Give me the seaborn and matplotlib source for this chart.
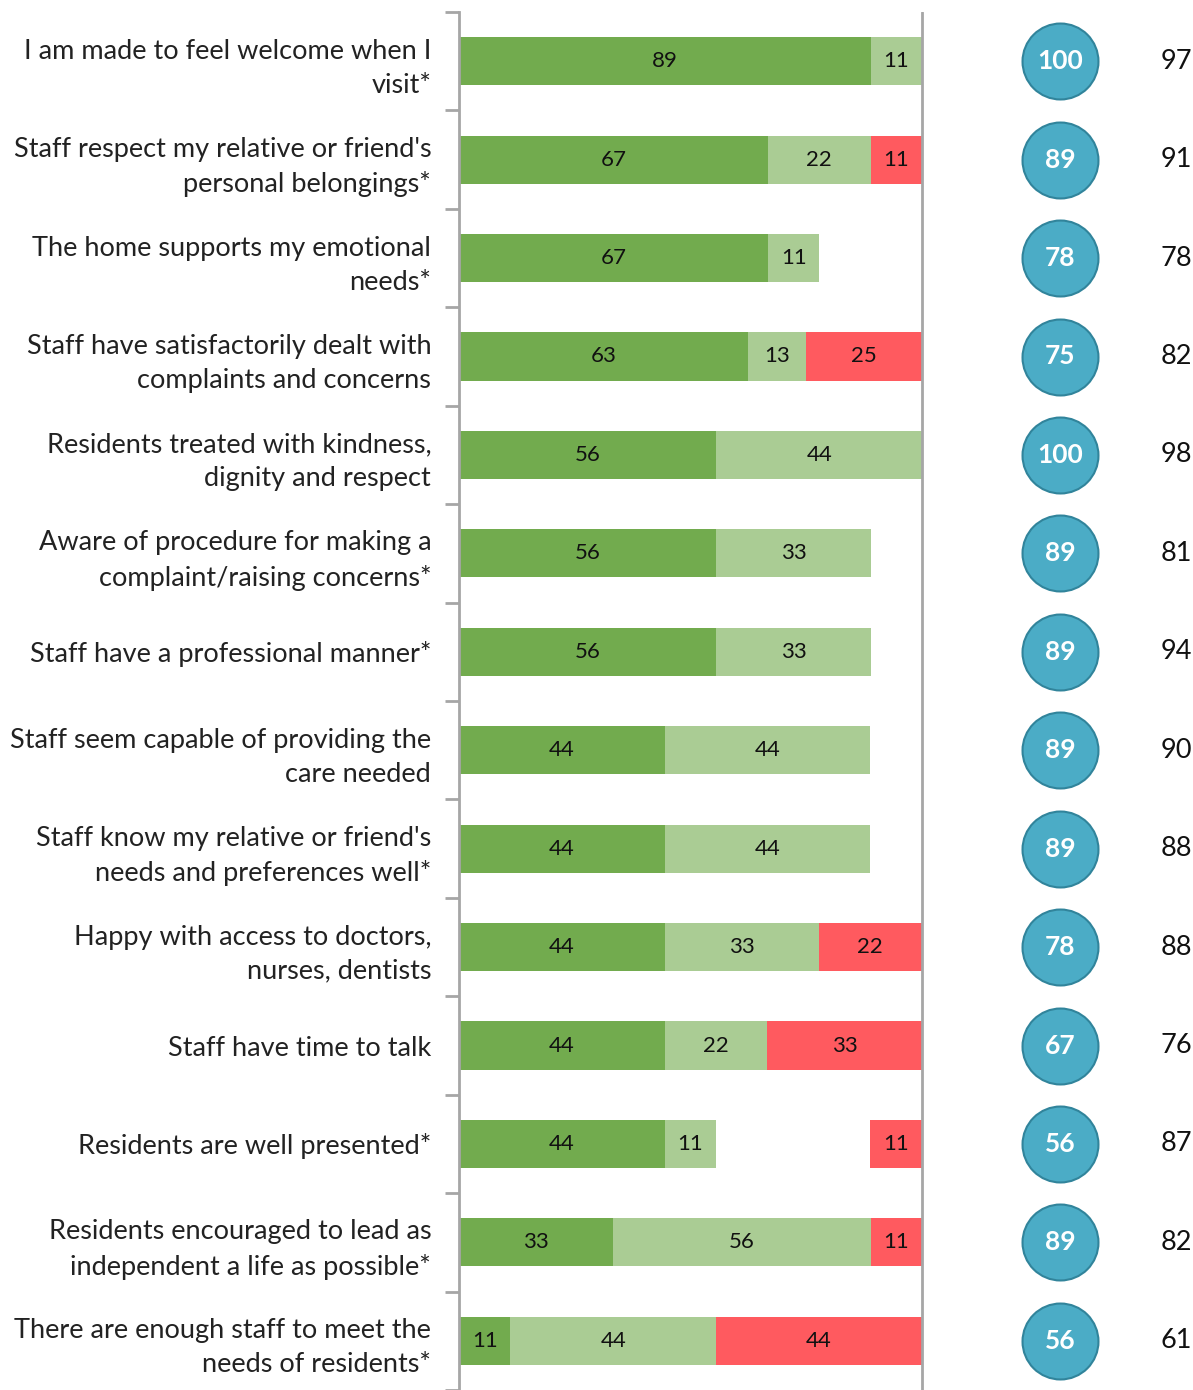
import numpy as np
import matplotlib
matplotlib.use("Agg")
import matplotlib.pyplot as plt
import seaborn as sns

# survey statements (wrapped as in the report)
categories = [
    "I am made to feel welcome when I\nvisit*",
    "Staff respect my relative or friend's\npersonal belongings*",
    "The home supports my emotional\nneeds*",
    "Staff have satisfactorily dealt with\ncomplaints and concerns",
    "Residents treated with kindness,\ndignity and respect",
    "Aware of procedure for making a\ncomplaint/raising concerns*",
    "Staff have a professional manner*",
    "Staff seem capable of providing the\ncare needed",
    "Staff know my relative or friend's\nneeds and preferences well*",
    "Happy with access to doctors,\nnurses, dentists",
    "Staff have time to talk",
    "Residents are well presented*",
    "Residents encouraged to lead as\nindependent a life as possible*",
    "There are enough staff to meet the\nneeds of residents*",
]

strongly_agree = [88.9, 66.7, 66.7, 62.5, 55.6, 55.6, 55.6, 44.4, 44.4, 44.4, 44.4, 44.4, 33.3, 11.1]
agree = [11.1, 22.2, 11.1, 12.5, 44.4, 33.3, 33.3, 44.4, 44.4, 33.3, 22.2, 11.1, 55.6, 44.4]
neutral = [0, 0, 22.2, 0, 0, 11.1, 11.1, 11.1, 11.1, 0, 0, 33.3, 0, 0]
disagree = [0, 11.1, 0, 25.0, 0, 0, 0, 0, 0, 22.2, 33.3, 11.1, 11.1, 44.4]

home_score = [100, 89, 78, 75, 100, 89, 89, 89, 89, 78, 67, 56, 89, 56]
benchmark = [97, 91, 78, 82, 98, 81, 94, 90, 88, 88, 76, 87, 82, 61]

c_dark = "#72AB4E"
c_light = "#AACC94"
c_red = "#FF5A5F"
c_circle = "#4BACC6"
c_grey = "#A6A6A6"

sns.set_theme(style="white")
plt.rcParams["font.family"] = ["Lato", "DejaVu Sans"]

fig = plt.figure(figsize=(11.93, 13.90), dpi=100)
ax = fig.add_axes([459 / 1193, 0, 734 / 1193, 1378 / 1390])

s = np.array(strongly_agree)
a = np.array(agree)
n = np.array(neutral)
d = np.array(disagree)

# layered bars: full length in red, neutral blanked in white, then greens on top
layers = [(s + a + n + d, c_red), (s + a + n, "white"), (s + a, c_light), (s, c_dark)]
for vals, col in layers:
    sns.barplot(x=vals, y=categories, orient="h", color=col, saturation=1,
                width=0.49, errorbar=None, linewidth=0, ax=ax)

def lab(v):
    return str(int(v + 0.5))

for i in range(len(categories)):
    segs = [(0, s[i]), (s[i], a[i]), (s[i] + a[i] + n[i], d[i])]
    for left, w in segs:
        if w > 0:
            ax.text(left + w / 2, i, lab(w), ha="center", va="center",
                    fontsize=16, color="#111111")

# circle scores and benchmark column
ax.scatter([129.8] * len(home_score), range(len(home_score)), s=2990,
           color=c_circle, edgecolor="#31849B", linewidth=1.5, zorder=3,
           clip_on=False)
for i, v in enumerate(home_score):
    ax.text(129.8, i, str(v), ha="center", va="center", fontsize=19,
            fontweight="bold", color="white", zorder=4)
for i, v in enumerate(benchmark):
    ax.text(154.9, i, str(v), ha="center", va="center", fontsize=19.5,
            color="#111111")

ax.axvline(100, color=c_grey, lw=2)
ax.set_xlim(0, 158.5)
ax.set_ylim(13.4, -0.5)
ax.set_xlabel("")
ax.set_ylabel("")
ax.set_xticks([])

ax.set_yticks(range(len(categories)))
ax.set_yticklabels(categories, fontsize=19.5, color="#222222", linespacing=1.45)
ax.set_yticks(np.arange(-0.5, len(categories), 1), minor=True)
ax.tick_params(axis="y", which="major", length=0, pad=20)
ax.tick_params(axis="y", which="minor", length=10, width=2, color=c_grey, left=True)

for side in ["top", "right", "bottom"]:
    ax.spines[side].set_visible(False)
ax.spines["left"].set_color(c_grey)
ax.spines["left"].set_linewidth(2)

fig.savefig("out.png", dpi=100)
